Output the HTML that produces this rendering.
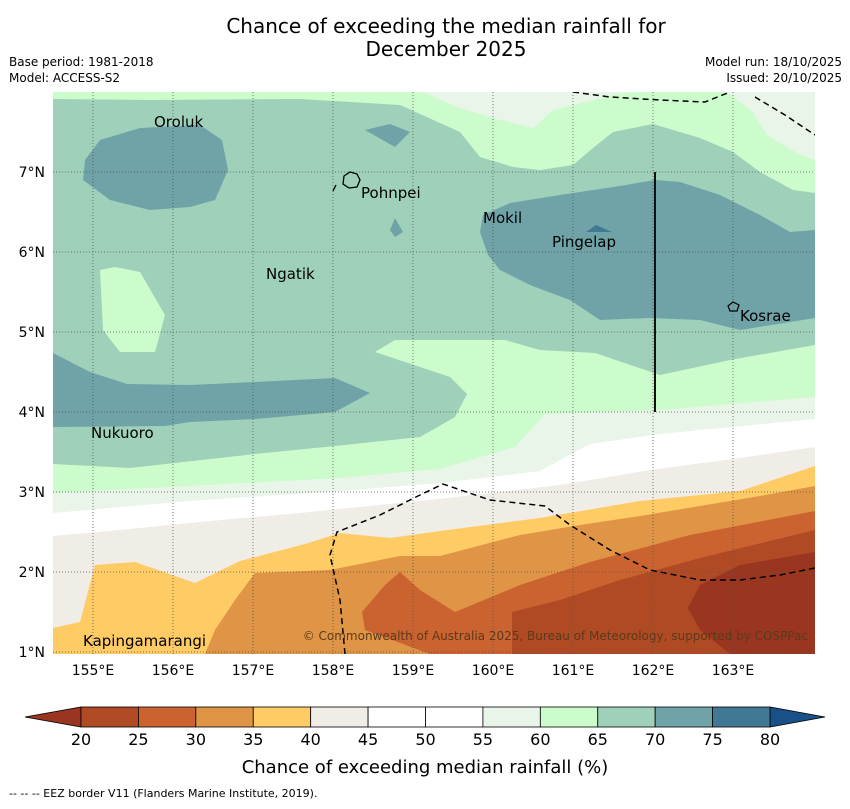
<!DOCTYPE html>
<html><head><meta charset="utf-8">
<style>
body{margin:0;background:#fff;width:850px;height:804px;overflow:hidden;font-family:"Liberation Sans","DejaVu Sans",sans-serif;}
svg text{font-family:"DejaVu Sans","Liberation Sans",sans-serif;}
</style></head>
<body>
<svg id="chart" width="850" height="804" viewBox="0 0 850 804" xmlns="http://www.w3.org/2000/svg">
<text x="446" y="33" font-size="20" text-anchor="middle">Chance of exceeding the median rainfall for</text>
<text x="446" y="56" font-size="20" text-anchor="middle">December 2025</text>
<text x="9" y="66" font-size="12">Base period: 1981-2018</text>
<text x="9" y="82" font-size="12">Model: ACCESS-S2</text>
<text x="842" y="66" font-size="12" text-anchor="end">Model run: 18/10/2025</text>
<text x="842" y="82" font-size="12" text-anchor="end">Issued: 20/10/2025</text>
<defs><clipPath id="mapclip"><rect x="53" y="92" width="762" height="562"/></clipPath></defs>
<g id="map" clip-path="url(#mapclip)">
<rect x="53" y="92" width="762" height="562" fill="#9fd0b9"/>
<path fill="#ccfccc" d="M53,92 L53,99 L150,100 L300,99 L400,105 L460,132 L480,157 L513,167 L540,170 L573,165 L593,148 L613,132 L653,124 L700,138 L733,152 L760,172 L793,190 L815,193 L815,92 Z"/>
<path fill="#eaf5ea" d="M423,92 L457,107 L500,120 L533,128 L553,110 L573,105 L613,95 L633,92 Z M727,92 L753,112 L767,135 L797,153 L815,160 L815,92 Z"/>
<path fill="#6fa3a8" d="M85,160 L100,140 L140,128 L200,125 L222,140 L228,170 L215,200 L190,207 L150,210 L110,200 L83,180 Z"/>
<path fill="#6fa3a8" d="M365,130 L390,124 L410,132 L395,147 Z"/>
<path fill="#6fa3a8" d="M390,230 L395,218 L403,232 L395,237 Z"/>
<path fill="#6fa3a8" d="M480,232 L483,215 L510,203 L560,195 L620,186 L655,180 L680,182 L720,195 L760,215 L790,232 L815,230 L815,318 L790,322 L740,330 L700,320 L650,318 L600,320 L570,300 L530,285 L500,270 L488,255 Z"/>
<path fill="#417894" d="M586,232 L596,225 L612,232 Z"/>
<path fill="#ccfccc" d="M100,270 L115,267 L140,272 L165,315 L155,352 L120,352 L103,330 Z"/>
<path fill="#ccfccc" d="M375,352 L395,340 L505,340 L540,350 L595,353 L660,375 L730,360 L815,345 L815,600 L53,600 L53,464 L130,468 L255,454 L335,446 L420,437 L455,417 L467,394 L450,377 L420,367 Z"/>
<path fill="#6fa3a8" d="M53,353 L90,372 L127,384 L190,385 L255,382 L335,378 L370,393 L335,412 L255,419 L190,422 L165,426 L53,427 Z"/>
<path fill="#eaf5ea" d="M53,493 L190,486 L340,478 L440,469 L515,447 L545,414 L660,410 L815,397 L815,654 L53,654 Z"/>
<path fill="#ffffff" d="M53,513 L190,501 L340,491 L440,483 L540,471 L590,444 L660,434 L815,419 L815,654 L53,654 Z"/>
<path fill="#f0ece6" d="M53,536 L120,530 L200,522 L300,513 L430,500 L560,485 L650,470 L740,458 L815,447 L815,654 L53,654 Z"/>
<path fill="#fecb65" d="M53,628 L80,622 L95,565 L135,562 L195,583 L240,561 L305,544 L340,533 L390,538 L440,531 L540,518 L640,501 L740,491 L815,466 L815,654 L53,654 Z"/>
<path fill="#e09445" d="M205,654 L215,630 L235,600 L255,573 L330,570 L400,556 L440,556 L520,535 L580,525 L640,516 L700,506 L760,496 L815,486 L815,654 Z"/>
<path fill="#cb6331" d="M430,654 L365,630 L362,612 L385,585 L400,572 L420,590 L455,612 L520,585 L590,562 L690,535 L815,511 L815,654 Z"/>
<path fill="#b04a25" d="M512,654 L512,612 L560,600 L620,580 L700,558 L815,530 L815,654 Z"/>
<path fill="#9a3520" d="M730,654 L700,630 L688,608 L700,585 L740,565 L815,552 L815,654 Z"/>
<g id="grid" stroke="#555" stroke-width="0.8" stroke-dasharray="1,2"></g>
<path fill="none" stroke="#000" stroke-width="1.5" stroke-dasharray="6,4" d="M345,654 L340,600 L330,555 L337,532 L380,515 L420,495 L443,484 L490,500 L545,506 L570,525 L610,550 L650,570 L700,580 L740,580 L780,575 L815,568"/>
<path fill="none" stroke="#000" stroke-width="1.5" stroke-dasharray="6,4" d="M573,92 L610,97 L660,100 L705,102 L730,92 M755,97 L785,115 L815,135"/>
<path fill="none" stroke="#000" stroke-width="1.3" d="M333,191 L336,185"/>
<line x1="655" y1="172" x2="655" y2="412" stroke="#111" stroke-width="2"/>
<path fill="none" stroke="#000" stroke-width="1.3" d="M344,176 L350,172 L357,174 L360,180 L357,187 L349,188 L343,184 Z"/>
<path fill="none" stroke="#000" stroke-width="1.2" d="M728,306 L733,302 L739,305 L737,311 L730,311 Z"/>
<text x="154" y="127" font-size="15">Oroluk</text>
<text x="361" y="198" font-size="15">Pohnpei</text>
<text x="483" y="223" font-size="15">Mokil</text>
<text x="552" y="247" font-size="15">Pingelap</text>
<text x="266" y="279" font-size="15">Ngatik</text>
<text x="740" y="321" font-size="15">Kosrae</text>
<text x="91" y="438" font-size="15">Nukuoro</text>
<text x="83" y="646" font-size="15">Kapingamarangi</text>
<text x="808" y="640" font-size="12" fill="#5a3a1a" text-anchor="end">© Commonwealth of Australia 2025, Bureau of Meteorology, supported by COSPPac</text>
</g>
<g id="axes"></g>
<g id="colorbar"></g>
<text x="425" y="773" font-size="18" text-anchor="middle">Chance of exceeding median rainfall (%)</text>
<text x="9" y="797" font-size="11">--  --  -- EEZ border V11 (Flanders Marine Institute, 2019).</text>
</svg>
<script>
const lonTicks = [155,156,157,158,159,160,161,162,163];
const latTicks = [1,2,3,4,5,6,7];
const cbLevels = [20,25,30,35,40,45,50,55,60,65,70,75,80];
const cbColors = ["#b04a25","#cb6331","#e09445","#fecb65","#f0ece6","#ffffff","#ffffff","#eaf5ea","#ccfccc","#9fd0b9","#6fa3a8","#417894"];
const cbUnder = "#9a3520";
const cbOver = "#1a5088";
const NS="http://www.w3.org/2000/svg";
const xLon = lon => 93 + (lon-155)*80;
const yLat = lat => 172 + (7-lat)*80;
const xCb = v => 81 + (v-20)*(770-81)/60;
function mk(tag, attrs, parent){const e=document.createElementNS(NS,tag);for(const k in attrs)e.setAttribute(k,attrs[k]);parent.appendChild(e);return e;}
const grid=document.getElementById('grid');
const axes=document.getElementById('axes');
lonTicks.forEach(l=>{
  const ln=mk('line',{x1:xLon(l),x2:xLon(l),y1:92,y2:654},grid);
  
  
  const t=mk('text',{x:xLon(l),y:675,'font-size':14,'text-anchor':'middle'},axes);
  t.textContent=l+'°E';
  
  
});
latTicks.forEach(l=>{
  const ln=mk('line',{x1:53,x2:815,y1:yLat(l),y2:yLat(l)},grid);
  
  
  const t=mk('text',{x:45,y:yLat(l)+5,'font-size':14,'text-anchor':'end'},axes);
  t.textContent=l+'°N';
  
  
});
const cb=document.getElementById('colorbar');
const y0=707,y1=727;
const under=mk('polygon',{points:`${xCb(20)},${y0} ${xCb(20)},${y1} 25,${(y0+y1)/2}`,fill:cbUnder,stroke:'#000','stroke-width':0.8},cb);


const over=mk('polygon',{points:`${xCb(80)},${y0} ${xCb(80)},${y1} 825,${(y0+y1)/2}`,fill:cbOver,stroke:'#000','stroke-width':0.8},cb);


cbColors.forEach((c,i)=>{
  const r=mk('rect',{x:xCb(cbLevels[i]),y:y0,width:xCb(cbLevels[i+1])-xCb(cbLevels[i]),height:y1-y0,fill:c,stroke:'#000','stroke-width':0.8},cb);
  
  
});
cbLevels.forEach(v=>{
  const t=mk('text',{x:xCb(v),y:745,'font-size':16,'text-anchor':'middle'},cb);
  t.textContent=v;
  
  
});
</script>
</body></html>
